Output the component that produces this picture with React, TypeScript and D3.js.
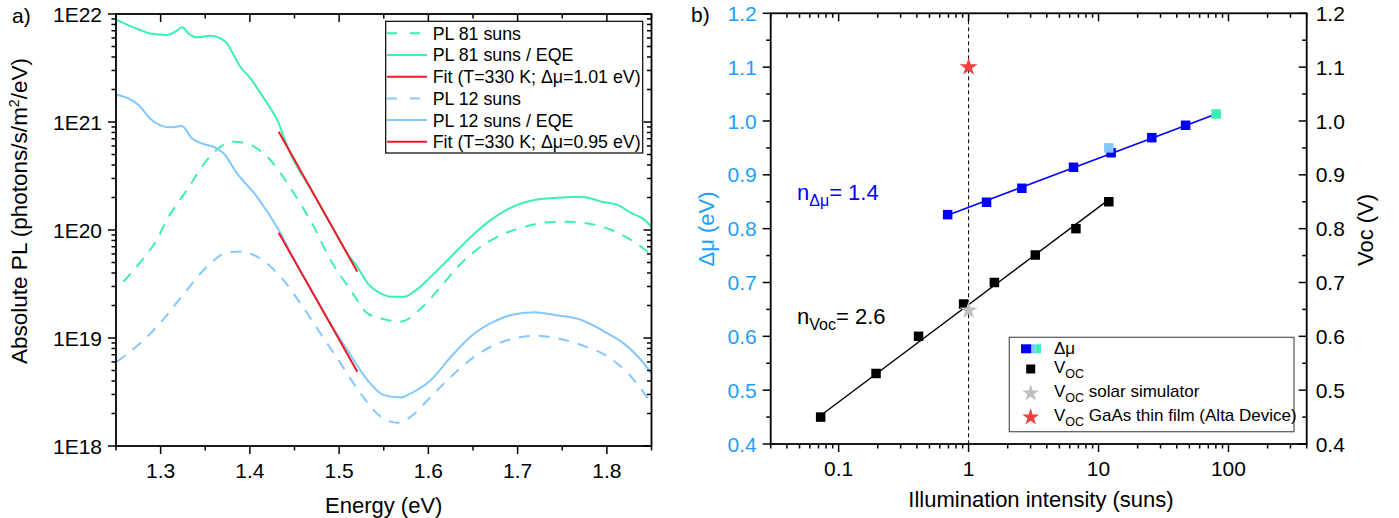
import React from 'react';
import * as d3 from 'd3';

const FONT = "'Liberation Sans', Arial, Helvetica, sans-serif";

// ---------- Panel a) data (Energy in eV, flux in photons/s/m²/eV) ----------
const ePL81EQE = [1.25, 1.265, 1.277, 1.288, 1.307, 1.3163, 1.3245, 1.3312, 1.3406, 1.3556, 1.367, 1.3743, 1.3818, 1.3893, 1.4006, 1.4118, 1.423, 1.4324, 1.438, 1.4455, 1.47, 1.5, 1.51, 1.52, 1.5316, 1.5466, 1.5579, 1.5728, 1.584, 1.6028, 1.6253, 1.6478, 1.67, 1.689, 1.719, 1.749, 1.7713, 1.7938, 1.8125, 1.8275, 1.8425, 1.85];
const fPL81EQE = [8.93e21, 7.8e21, 7.11e21, 6.6e21, 6.4e21, 6.85e21, 7.53e21, 6.62e21, 6.08e21, 6.3e21, 5.96e21, 5.36e21, 4.17e21, 3.25e21, 2.54e21, 1.85e21, 1.34e21, 9.73e20, 7.2e20, 5.1e20, 2.26e20, 8.2e19, 5.89e19, 4.62e19, 3.24e19, 2.59e19, 2.41e19, 2.41e19, 2.69e19, 3.7e19, 5.66e19, 8.67e19, 1.24e20, 1.56e20, 1.9e20, 2.0e20, 2.03e20, 1.83e20, 1.7e20, 1.43e20, 1.24e20, 1.07e20];

const ePL81 = [1.2582, 1.2807, 1.2956, 1.307, 1.3294, 1.352, 1.367, 1.3818, 1.3968, 1.4193, 1.4492, 1.4717, 1.4904, 1.5129, 1.5317, 1.554, 1.569, 1.5916, 1.614, 1.6365, 1.659, 1.6815, 1.7077, 1.734, 1.7565, 1.779, 1.805, 1.8275, 1.85];
const fPL81 = [3.32e19, 5.47e19, 8.07e19, 1.24e20, 2.34e20, 4.45e20, 5.9e20, 6.58e20, 6.31e20, 4.78e20, 2.19e20, 1.07e20, 5.27e19, 2.78e19, 1.69e19, 1.47e19, 1.42e19, 1.88e19, 2.99e19, 4.9e19, 7.02e19, 8.99e19, 1.07e20, 1.18e20, 1.19e20, 1.15e20, 1.0e20, 8.07e19, 5.89e19];

const ePL12EQE = [1.25, 1.277, 1.288, 1.3107, 1.3238, 1.335, 1.3481, 1.3593, 1.3705, 1.3856, 1.408, 1.4323, 1.45, 1.47, 1.49, 1.5092, 1.5317, 1.5503, 1.569, 1.5803, 1.6028, 1.6253, 1.6515, 1.67, 1.6927, 1.719, 1.7415, 1.7713, 1.8012, 1.8163, 1.835, 1.85];
const fPL12EQE = [1.8e21, 1.39e21, 1.08e21, 8.93e20, 9.18e20, 7.06e20, 6.25e20, 5.9e20, 5.13e20, 3.35e20, 2.03e20, 1.0e20, 5.25e19, 2.69e19, 1.38e19, 7.74e18, 4.08e18, 2.96e18, 2.82e18, 3.07e18, 4.08e18, 6.71e18, 1.1e19, 1.37e19, 1.63e19, 1.73e19, 1.63e19, 1.47e19, 1.1e19, 9.25e18, 6.71e18, 4.71e18];

const ePL12 = [1.2507, 1.277, 1.2994, 1.3294, 1.3556, 1.3743, 1.389, 1.408, 1.4343, 1.4567, 1.4792, 1.5017, 1.524, 1.5466, 1.5653, 1.5803, 1.6028, 1.6253, 1.6515, 1.674, 1.6964, 1.719, 1.745, 1.7713, 1.8012, 1.8237, 1.85];
const fPL12 = [6.04e18, 8.93e18, 1.37e19, 2.78e19, 4.9e19, 6.17e19, 6.31e19, 5.66e19, 3.7e19, 2.09e19, 1.1e19, 5.82e18, 3.07e18, 1.87e18, 1.64e18, 1.87e18, 2.86e18, 4.39e18, 6.71e18, 8.61e18, 9.93e18, 1.05e19, 9.93e18, 8.61e18, 6.71e18, 4.71e18, 2.48e18];

const eFit81 = [1.4323, 1.5204];
const fFit81 = [8.13e20, 4.11e19];
const eFit12 = [1.4323, 1.5204];
const fFit12 = [9.44e19, 4.88e18];

const legendA = [
  'PL 81 suns',
  'PL 81 suns / EQE',
  'Fit (T=330 K; Δμ=1.01 eV)',
  'PL 12 suns',
  'PL 12 suns / EQE',
  'Fit (T=330 K; Δμ=0.95 eV)',
];

const aXMajor = [1.3, 1.4, 1.5, 1.6, 1.7, 1.8];
const aXLabels = ['1.3', '1.4', '1.5', '1.6', '1.7', '1.8'];
const aXMinor = [1.25, 1.35, 1.45, 1.55, 1.65, 1.75, 1.85];
const aYMajor = [1e18, 1e19, 1e20, 1e21, 1e22];
const aYLabels = ['1E18', '1E19', '1E20', '1E21', '1E22'];

// ---------- Panel b) data ----------
const dmuX = [0.69, 1.375, 2.57, 6.42, 12.5, 25.7, 46.8];
const dmuY = [0.826, 0.849, 0.875, 0.914, 0.941, 0.969, 0.992];
const dmu12X = [12.0];
const dmu12Y = [0.95];
const dmu81X = [80.4];
const dmu81Y = [1.013];
const fitDmuX = [0.69, 80.4];
const fitDmuY = [0.825, 1.013];

const vocX = [0.0727, 0.194, 0.412, 0.916, 1.58, 3.26, 6.7, 12.0];
const vocY = [0.45, 0.531, 0.6, 0.66, 0.7, 0.751, 0.8, 0.85];
const fitVocX = [0.0727, 12.0];
const fitVocY = [0.453, 0.854];

const solarSimX = [1];
const solarSimY = [0.648];
const gaasX = [1];
const gaasY = [1.1];

const bXMajor = [0.1, 1, 10, 100];
const bXLabels = ['0.1', '1', '10', '100'];
const bYMajor = [0.4, 0.5, 0.6, 0.7, 0.8, 0.9, 1.0, 1.1, 1.2];
const bYLabels = ['0.4', '0.5', '0.6', '0.7', '0.8', '0.9', '1.0', '1.1', '1.2'];
const bYMinor = [0.45, 0.55, 0.65, 0.75, 0.85, 0.95, 1.05, 1.15];

// ---------- colours ----------
const MINT = '#3cefb2';
const SKY = '#84c8ff';
const RED = '#ec1c24';
const BLUE = '#0000ff';
const LIGHTSQ = '#80c8ff';
const TICKBLUE = '#1aa0ff';
const STARRED = '#f24040';
const STARGRAY = '#c0c0c0';

const zip = (a: number[], b: number[]) => a.map((v, i) => [v, b[i]] as [number, number]);

export default function App() {
  // scales panel a
  const aL = 116, aR = 651.5, aT = 14, aB = 446;
  const ax = d3.scaleLinear().domain([1.25, 1.85]).range([aL, aR]);
  const ay = d3.scaleLog().domain([1e18, 1e22]).range([aB, aT]);
  const aYMinor = ay.ticks().filter((t) => !aYMajor.some((m) => Math.abs(m - t) / m < 1e-6));

  // scales panel b
  const bL = 770.7, bR = 1306.7, bT = 13.3, bB = 444;
  const bx = d3.scaleLog().domain([0.03, 400]).range([bL, bR]);
  const by = d3.scaleLinear().domain([0.4, 1.2]).range([bB, bT]);
  const bXMinor = bx.ticks().filter((t) => !bXMajor.some((m) => Math.abs(m - t) / m < 1e-6) && t >= 0.03 && t <= 400);

  const lineA = d3
    .line<[number, number]>()
    .x((d) => ax(d[0]))
    .y((d) => ay(d[1]))
    .curve(d3.curveMonotoneX);
  const lineAStraight = d3
    .line<[number, number]>()
    .x((d) => ax(d[0]))
    .y((d) => ay(d[1]));
  const lineB = d3
    .line<[number, number]>()
    .x((d) => bx(d[0]))
    .y((d) => by(d[1]));

  const star = d3.symbol().type(d3.symbolStar).size(100)() as string;
  const starLeg = d3.symbol().type(d3.symbolStar).size(90)() as string;

  const MAJ = 8, MIN = 4.5, AXW = 1.8;
  const tickFs = 21;

  const legendStyles = [
    { color: MINT, dash: '11,9' },
    { color: MINT, dash: '' },
    { color: RED, dash: '' },
    { color: SKY, dash: '11,9' },
    { color: SKY, dash: '' },
    { color: RED, dash: '' },
  ];
  const legTop = 33.3, legStep = 21.7;

  const sq = 9.5;

  return (
    <svg
      width={1399}
      height={518}
      style={{ position: 'absolute', left: 0, top: 0, background: '#fff' }}
      fontFamily={FONT}
    >
      <rect x={0} y={0} width={1399} height={518} fill="#fff" />
      {/* ================= Panel a ================= */}
      <text x={12} y={23} fontSize={21}>a)</text>
      <defs>
        <clipPath id="clipA">
          <rect x={aL} y={aT} width={aR - aL} height={aB - aT} />
        </clipPath>
      </defs>
      <g clipPath="url(#clipA)" fill="none" strokeWidth={2}>
        <path d={lineA(zip(ePL81, fPL81)) || ''} stroke={MINT} strokeDasharray="11,9" />
        <path d={lineA(zip(ePL81EQE, fPL81EQE)) || ''} stroke={MINT} />
        <path d={lineA(zip(ePL12, fPL12)) || ''} stroke={SKY} strokeDasharray="11,9" />
        <path d={lineA(zip(ePL12EQE, fPL12EQE)) || ''} stroke={SKY} />
        <path d={lineAStraight(zip(eFit81, fFit81)) || ''} stroke={RED} />
        <path d={lineAStraight(zip(eFit12, fFit12)) || ''} stroke={RED} />
      </g>
      {/* frame */}
      <rect x={aL} y={aT} width={aR - aL} height={aB - aT} fill="none" stroke="#000" strokeWidth={AXW} />
      {/* ticks */}
      <g stroke="#000" strokeWidth={1.5}>
        {aYMajor.map((t) => (
          <g key={'aym' + t}>
            <line x1={aL - MAJ} x2={aL} y1={ay(t)} y2={ay(t)} />
            <line x1={aR - MAJ} x2={aR} y1={ay(t)} y2={ay(t)} />
          </g>
        ))}
        {aYMinor.map((t) => (
          <g key={'ayn' + t}>
            <line x1={aL - MIN} x2={aL} y1={ay(t)} y2={ay(t)} />
            <line x1={aR - MIN} x2={aR} y1={ay(t)} y2={ay(t)} />
          </g>
        ))}
        {aXMajor.map((t) => (
          <g key={'axm' + t}>
            <line x1={ax(t)} x2={ax(t)} y1={aB} y2={aB + MAJ} />
            <line x1={ax(t)} x2={ax(t)} y1={aT} y2={aT + MAJ} />
          </g>
        ))}
        {aXMinor.map((t) => (
          <g key={'axn' + t}>
            <line x1={ax(t)} x2={ax(t)} y1={aB} y2={aB + MIN} />
            <line x1={ax(t)} x2={ax(t)} y1={aT} y2={aT + MIN} />
          </g>
        ))}
      </g>
      {aYMajor.map((t, i) => (
        <text key={'ayl' + t} x={aL - 14} y={ay(t)} dy="0.36em" textAnchor="end" fontSize={tickFs}>
          {aYLabels[i]}
        </text>
      ))}
      {aXMajor.map((t, i) => (
        <text key={'axl' + t} x={ax(t)} y={478} textAnchor="middle" fontSize={tickFs}>
          {aXLabels[i]}
        </text>
      ))}
      <text x={(aL + aR) / 2} y={513} textAnchor="middle" fontSize={22}>Energy (eV)</text>
      <text transform="translate(27,211) rotate(-90)" textAnchor="middle" fontSize={22.5}>
        Absolute PL (photons/s/m<tspan fontSize={14} dy={-8}>2</tspan>
        <tspan dy={8}>/eV)</tspan>
      </text>
      {/* legend a */}
      <rect x={385.7} y={21.3} width={257} height={131.7} fill="#fff" stroke="#000" strokeWidth={1.2} />
      {legendA.map((name, i) => {
        const yy = legTop + i * legStep;
        const s = legendStyles[i];
        return (
          <g key={'lega' + i}>
            <line x1={387} x2={427} y1={yy} y2={yy} stroke={s.color} strokeWidth={2} strokeDasharray={s.dash ? '10,13' : undefined} />
            <text x={432.7} y={yy} dy="0.36em" fontSize={17.8}>{name}</text>
          </g>
        );
      })}

      {/* ================= Panel b ================= */}
      <text x={691} y={22} fontSize={21}>b)</text>
      <line x1={bx(1)} x2={bx(1)} y1={bT} y2={bB} stroke="#000" strokeWidth={1} strokeDasharray="4,3" />
      <path d={lineB(zip(fitDmuX, fitDmuY)) || ''} stroke={BLUE} strokeWidth={1.6} fill="none" />
      <path d={lineB(zip(fitVocX, fitVocY)) || ''} stroke="#000" strokeWidth={1.4} fill="none" />
      {zip(dmuX, dmuY).map((d, i) => (
        <rect key={'dmu' + i} x={bx(d[0]) - sq / 2} y={by(d[1]) - sq / 2} width={sq} height={sq} fill={BLUE} />
      ))}
      {zip(dmu12X, dmu12Y).map((d, i) => (
        <rect key={'dmu12' + i} x={bx(d[0]) - sq / 2} y={by(d[1]) - sq / 2} width={sq} height={sq} fill={LIGHTSQ} />
      ))}
      {zip(dmu81X, dmu81Y).map((d, i) => (
        <rect key={'dmu81' + i} x={bx(d[0]) - sq / 2} y={by(d[1]) - sq / 2} width={sq} height={sq} fill={MINT} />
      ))}
      {zip(vocX, vocY).map((d, i) => (
        <rect key={'voc' + i} x={bx(d[0]) - sq / 2} y={by(d[1]) - sq / 2} width={sq} height={sq} fill="#000" />
      ))}
      {zip(solarSimX, solarSimY).map((d, i) => (
        <path key={'ss' + i} d={star} transform={`translate(${bx(d[0])},${by(d[1])})`} fill={STARGRAY} />
      ))}
      {zip(gaasX, gaasY).map((d, i) => (
        <path key={'ga' + i} d={star} transform={`translate(${bx(d[0])},${by(d[1])})`} fill={STARRED} />
      ))}
      <rect x={bL} y={bT} width={bR - bL} height={bB - bT} fill="none" stroke="#000" strokeWidth={AXW} />
      <g stroke="#000" strokeWidth={1.5}>
        {bYMajor.map((t) => (
          <g key={'bym' + t}>
            <line x1={bL - MAJ} x2={bL} y1={by(t)} y2={by(t)} />
            <line x1={bR - MAJ} x2={bR} y1={by(t)} y2={by(t)} />
          </g>
        ))}
        {bYMinor.map((t) => (
          <g key={'byn' + t}>
            <line x1={bL - MIN} x2={bL} y1={by(t)} y2={by(t)} />
            <line x1={bR - MIN} x2={bR} y1={by(t)} y2={by(t)} />
          </g>
        ))}
        {bXMajor.map((t) => (
          <g key={'bxm' + t}>
            <line x1={bx(t)} x2={bx(t)} y1={bB} y2={bB + MAJ} />
            <line x1={bx(t)} x2={bx(t)} y1={bT} y2={bT + MAJ} />
          </g>
        ))}
        {bXMinor.map((t) => (
          <g key={'bxn' + t}>
            <line x1={bx(t)} x2={bx(t)} y1={bB} y2={bB + MIN} />
            <line x1={bx(t)} x2={bx(t)} y1={bT} y2={bT + MIN} />
          </g>
        ))}
      </g>
      {bYMajor.map((t, i) => (
        <text key={'byl' + t} x={bL - 14} y={by(t)} dy="0.36em" textAnchor="end" fontSize={tickFs} fill={TICKBLUE}>
          {bYLabels[i]}
        </text>
      ))}
      {bYMajor.map((t, i) => (
        <text key={'byr' + t} x={bR + 9} y={by(t)} dy="0.36em" textAnchor="start" fontSize={tickFs}>
          {bYLabels[i]}
        </text>
      ))}
      {bXMajor.map((t, i) => (
        <text key={'bxl' + t} x={bx(t)} y={476} textAnchor="middle" fontSize={tickFs}>
          {bXLabels[i]}
        </text>
      ))}
      <text x={1041} y={507} textAnchor="middle" fontSize={22}>Illumination intensity (suns)</text>
      <text transform="translate(714,229) rotate(-90)" textAnchor="middle" fontSize={22} fill={TICKBLUE}>Δμ (eV)</text>
      <text transform="translate(1373,230) rotate(-90)" textAnchor="middle" fontSize={22}>Voc (V)</text>
      <text x={797} y={200} fontSize={22} fill={BLUE}>
        n<tspan fontSize={16} dy={6}>Δμ</tspan>
        <tspan dy={-6}>= 1.4</tspan>
      </text>
      <text x={797} y={324} fontSize={22} fill="#000">
        n<tspan fontSize={16} dy={6}>Voc</tspan>
        <tspan dy={-6}>= 2.6</tspan>
      </text>
      {/* legend b */}
      <rect x={1009.3} y={337.3} width={284.7} height={94.4} fill="#fff" stroke="#555" strokeWidth={1.2} />
      <rect x={1021} y={344.3} width={10.5} height={9} fill={BLUE} />
      <rect x={1031.5} y={344.3} width={4} height={9} fill={LIGHTSQ} />
      <rect x={1035.5} y={344.3} width={5.5} height={9} fill={MINT} />
      <text x={1054} y={354} fontSize={17}>Δμ</text>
      <rect x={1030.7 - 4.5} y={369 - 4.5} width={9} height={9} fill="#000" />
      <text x={1054} y={373} fontSize={17}>
        V<tspan fontSize={12.5} dy={5}>OC</tspan>
      </text>
      <path d={starLeg} transform="translate(1030.7,393.3)" fill={STARGRAY} />
      <text x={1054} y={397} fontSize={17}>
        V<tspan fontSize={12.5} dy={5}>OC</tspan>
        <tspan dy={-5}> solar simulator</tspan>
      </text>
      <path d={starLeg} transform="translate(1030.7,417.3)" fill={STARRED} />
      <text x={1054} y={421} fontSize={17}>
        V<tspan fontSize={12.5} dy={5}>OC</tspan>
        <tspan dy={-5}> GaAs thin film (Alta Device)</tspan>
      </text>
    </svg>
  );
}
